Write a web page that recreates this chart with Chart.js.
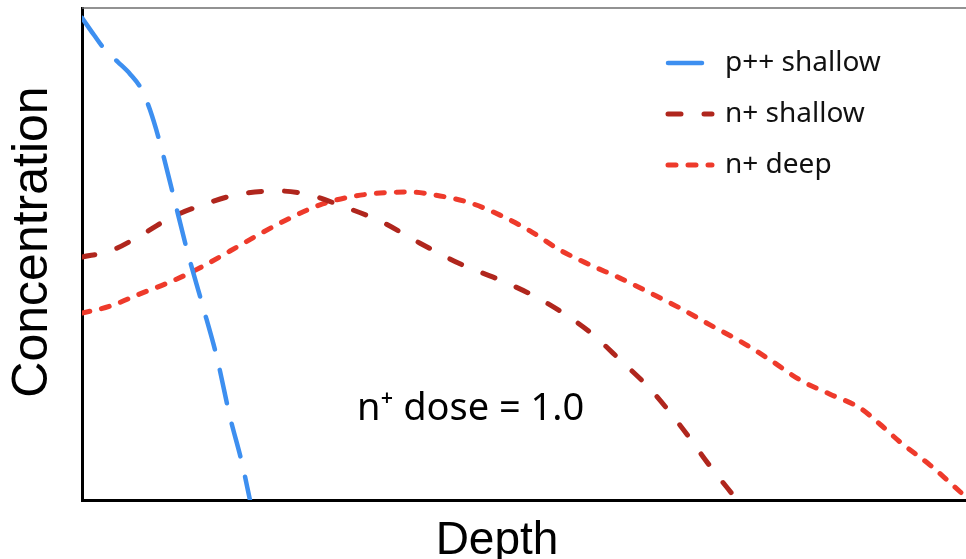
<!DOCTYPE html>
<html>
<head>
<meta charset="utf-8">
<script src="https://cdn.jsdelivr.net/npm/chart.js@4.4.1/dist/chart.umd.min.js"></script>
<style>
  html, body { margin: 0; padding: 0; background: #fff; overflow: hidden; }
  #wrap { width: 966px; height: 559px; }
</style>
</head>
<body>
<div id="wrap"><canvas id="chart" width="966" height="559"></canvas></div>
<script>
// depth / concentration profiles (arbitrary units, 0-100)
var pppDepth = [0, 1.36, 2.6, 4.07, 5.43, 6.79, 7.69, 8.82, 10.18, 11.88, 13.57, 15.27, 16.74, 18.1, 19.0];
var pppConc = [98, 94.5, 91.5, 89.0, 86.6, 83.3, 79.3, 72.6, 63.0, 50.8, 40.0, 28.9, 16.9, 7.5, 0];

var nShallowDepth = [0, 3.17, 6.56, 9.95, 13.35, 17.87, 22.4, 25.79, 29.19, 33.71, 38.24, 42.76, 47.29, 50.68, 54.07, 57.47, 60.86, 64.25, 67.65, 71.04, 74.1];
var nShallowConc = [49.4, 50.6, 53.7, 57.3, 59.8, 62.2, 62.8, 62.0, 59.9, 56.7, 52.2, 48.0, 44.7, 41.9, 38.4, 34.1, 28.5, 22.6, 15.2, 6.9, 0];

var nDeepDepth = [0, 3.17, 6.56, 9.95, 13.35, 16.74, 20.14, 23.53, 26.92, 30.32, 33.71, 37.1, 40.5, 43.89, 47.29, 50.68, 54.07, 57.47, 60.86, 64.25, 67.65, 71.04, 74.43, 77.83, 81.22, 84.62, 88.01, 90.27, 92.53, 95.93, 100];
var nDeepConc = [38.0, 39.4, 41.9, 44.3, 47.2, 50.6, 54.1, 57.3, 60.0, 61.6, 62.4, 62.6, 61.8, 60.4, 57.9, 54.7, 50.8, 47.8, 45.1, 42.1, 39.0, 35.6, 32.3, 28.5, 24.4, 21.5, 18.7, 15.4, 11.8, 7.1, 0.6];

var seriesNames = ['p++ shallow', 'n+ shallow', 'n+ deep'];
var noteText = 'n\u207A dose = 1.0';

var toPoints = function(xs, ys) {
  return xs.map(function(x, i) { return { x: x, y: ys[i] }; });
};

// legend, note, axis titles and the top frame line
var decorPlugin = {
  id: 'decor',
  afterDraw: function(chart) {
    var ctx = chart.ctx;
    var area = chart.chartArea;
    ctx.save();

    ctx.strokeStyle = '#6e6e6e';
    ctx.lineWidth = 1.5;
    ctx.beginPath();
    ctx.moveTo(area.left, area.top);
    ctx.lineTo(area.right, area.top);
    ctx.stroke();

    chart.data.datasets.forEach(function(ds, i) {
      var y = 63 + i * 51;
      ctx.strokeStyle = ds.borderColor;
      ctx.lineWidth = ds.borderWidth;
      ctx.lineCap = 'round';
      ctx.setLineDash(ds.borderDash);
      ctx.beginPath();
      ctx.moveTo(668, y);
      ctx.lineTo(712, y);
      ctx.stroke();
      ctx.setLineDash([]);
      ctx.fillStyle = '#111';
      ctx.font = '28px "Noto Sans"';
      ctx.textBaseline = 'middle';
      ctx.textAlign = 'left';
      ctx.fillText(ds.label, 725, y);
    });

    var xs = chart.scales.x, ys = chart.scales.y;
    ctx.fillStyle = '#000';
    ctx.font = '38px "Noto Sans"';
    ctx.textBaseline = 'alphabetic';
    ctx.textAlign = 'left';
    ctx.fillText(noteText, xs.getPixelForValue(31.1), ys.getPixelForValue(16.3));

    ctx.font = '46px "Liberation Sans"';
    ctx.textAlign = 'center';
    ctx.fillText('Depth', 497, 554);

    ctx.font = '50px "Liberation Sans"';
    ctx.translate(47, 242);
    ctx.rotate(-Math.PI / 2);
    ctx.fillText('Concentration', 0, 0);
    ctx.restore();
  }
};

var hideSize = function(scale) {
  if (scale.isHorizontal()) scale.height = 0; else scale.width = 0;
};

var ctx = document.getElementById('chart').getContext('2d');
var chart = new Chart(ctx, {
  type: 'line',
  data: {
    datasets: [{
      label: seriesNames[0],
      data: toPoints(pppDepth, pppConc),
      borderColor: '#3d8ff0',
      borderWidth: 4.5,
      borderDash: [34, 21],
      borderCapStyle: 'round'
    }, {
      label: seriesNames[1],
      data: toPoints(nShallowDepth, nShallowConc),
      borderColor: '#b0261d',
      borderWidth: 5,
      borderDash: [13, 23],
      borderCapStyle: 'round'
    }, {
      label: seriesNames[2],
      data: toPoints(nDeepDepth, nDeepConc),
      borderColor: '#ee3a2b',
      borderWidth: 5,
      borderDash: [8, 12],
      borderCapStyle: 'round'
    }]
  },
  options: {
    responsive: false,
    animation: false,
    elements: { point: { radius: 0 }, line: { cubicInterpolationMode: 'monotone' } },
    layout: { padding: { left: 82, top: 8, right: 0, bottom: 59 } },
    plugins: { legend: { display: false }, tooltip: { enabled: false } },
    scales: {
      x: {
        type: 'linear', min: 0, max: 100,
        ticks: { display: false },
        grid: { display: false },
        border: { color: '#000', width: 3 },
        afterFit: hideSize
      },
      y: {
        min: 0, max: 100,
        ticks: { display: false },
        grid: { display: false },
        border: { color: '#000', width: 3 },
        afterFit: hideSize
      }
    }
  },
  plugins: [decorPlugin]
});
</script>
</body>
</html>
